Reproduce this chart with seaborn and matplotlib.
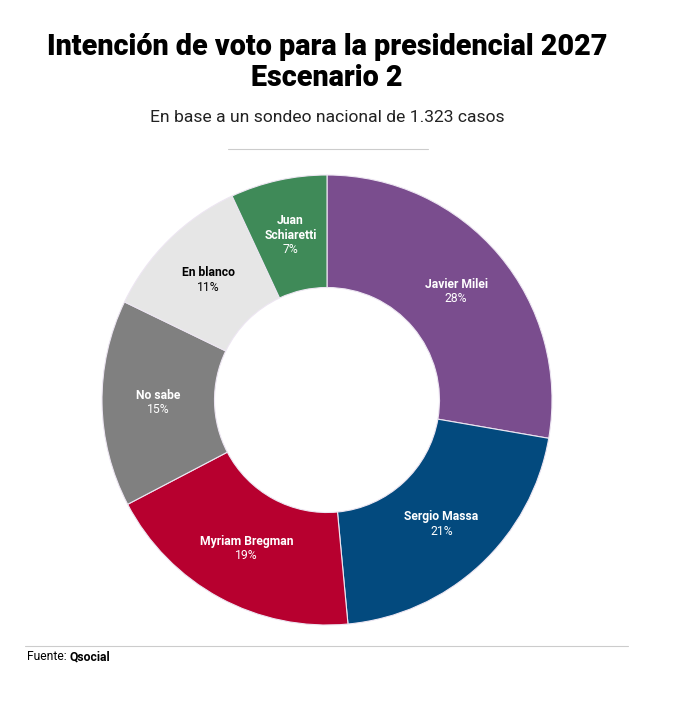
import matplotlib
matplotlib.use("Agg")
import matplotlib.pyplot as plt
import seaborn as sns
import numpy as np

categories = ["Javier Milei", "Sergio Massa", "Myriam Bregman", "No sabe", "En blanco", "Juan\nSchiaretti"]
values = [28, 21, 19, 15, 11, 7]
colors = ["#7A4D8E", "#034A7E", "#B7002F", "#808080", "#E6E6E6", "#3F8A58"]
text_colors = ["white", "white", "white", "white", "black", "white"]

sns.set_theme(style="white")
plt.rcParams["font.family"] = ["Roboto", "DejaVu Sans"]

fig = plt.figure(figsize=(6.86, 7.02), dpi=100)
fig.patch.set_facecolor("white")

R_PX = 225
ax = fig.add_axes([102 / 686, 1 - 625 / 702, 450 / 686, 450 / 702])
wedges, _ = ax.pie(values, colors=colors, startangle=90, counterclock=False,
                   radius=1.0, wedgeprops=dict(width=0.5, edgecolor="#EDE6F2", linewidth=0.8))
ax.set_xlim(-1, 1)
ax.set_ylim(-1, 1)
ax.set_aspect("equal")
ax.axis("off")

line_h = 14.5 / R_PX
for w, name, val, tc in zip(wedges, categories, values, text_colors):
    ang = np.deg2rad((w.theta1 + w.theta2) / 2)
    r = 0.75
    x, y = r * np.cos(ang), r * np.sin(ang)
    lines = name.split("\n")
    n = len(lines) + 1
    for i, ln in enumerate(lines):
        yy = y + ((n - 1) / 2 - i) * line_h
        ax.text(x, yy, ln, ha="center", va="center", fontsize=8.7,
                fontweight="bold", color=tc)
    yy = y + ((n - 1) / 2 - (n - 1)) * line_h
    ax.text(x, yy, f"{val}%", ha="center", va="center", fontsize=8.7, color=tc)

fig.text(0.4767, 1 - 47 / 702, "Intención de voto para la presidencial 2027", ha="center", va="center",
         fontsize=20.7, fontweight="black", color="black")
fig.text(0.4767, 1 - 78 / 702, "Escenario 2", ha="center", va="center",
         fontsize=20.7, fontweight="black", color="black")
fig.text(0.4767, 1 - 117 / 702, "En base a un sondeo nacional de 1.323 casos", ha="center", va="center",
         fontsize=12.6, fontweight="normal", color="#222222")
fig.add_artist(plt.Line2D([228 / 686, 428 / 686], [1 - 149 / 702, 1 - 149 / 702], color="#CCCCCC", linewidth=0.8))
fig.add_artist(plt.Line2D([25 / 686, 628 / 686], [1 - 646 / 702, 1 - 646 / 702], color="#CCCCCC", linewidth=0.8))
t1 = fig.text(27 / 686, 1 - 657 / 702, "Fuente: ", ha="left", va="center", fontsize=8.7, color="black")
fig.canvas.draw()
bb = t1.get_window_extent()
fig.text(bb.x1 / fig.bbox.width, 1 - 657 / 702, "Qsocial", ha="left", va="center", fontsize=8.7,
         fontweight="bold", color="black")

fig.savefig("out.png", dpi=100, facecolor="white")
